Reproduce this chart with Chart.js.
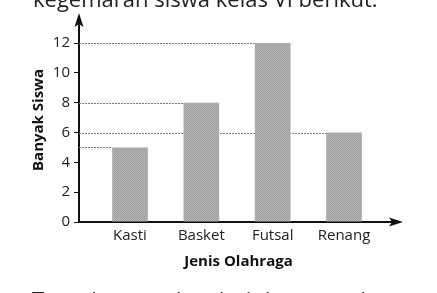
<!DOCTYPE html>
<html>
<head>
<meta charset="utf-8">
<script src="https://cdn.jsdelivr.net/npm/chart.js@4.4.0/dist/chart.umd.min.js"></script>
<style>
  html, body { margin: 0; padding: 0; background: #fff; }
  #wrap { position: relative; width: 437px; height: 293px; }
</style>
</head>
<body>
<div id="wrap"><canvas id="chartOlahraga" width="437" height="293"></canvas></div>
<script>
// Data kegemaran olahraga siswa kelas VI
const jenisOlahraga = ['Kasti', 'Basket', 'Futsal', 'Renang'];
const banyakSiswa = [5, 8, 12, 6];
const tickSumbuY = [0, 2, 4, 6, 8, 10, 12];

const teksAtas = 'kegemaran siswa kelas VI berikut.';
const teksBawah = 'Tentukan modus dari data tersebut.';

// Pola arsir batang (titik-titik abu seperti hasil cetak)
function buatPolaArsir() {
  const c = document.createElement('canvas');
  c.width = 2;
  c.height = 2;
  const g = c.getContext('2d');
  g.fillStyle = '#b4b4b4';
  g.fillRect(0, 0, 2, 2);
  g.fillStyle = '#a0a0a0';
  g.fillRect(0, 0, 1, 1);
  g.fillRect(1, 1, 1, 1);
  return g.createPattern(c, 'repeat');
}

// Plugin: garis putus-putus dari sumbu ke batang, panah sumbu, teks potongan
const hiasanPlugin = {
  id: 'hiasan',
  beforeDatasetsDraw(chart) {
    const { ctx, chartArea, scales } = chart;
    const meta = chart.getDatasetMeta(0);
    ctx.save();
    ctx.strokeStyle = '#7a7a7a';
    ctx.lineWidth = 1;
    ctx.setLineDash([2, 1]);
    meta.data.forEach((bar, i) => {
      const y = Math.round(scales.y.getPixelForValue(banyakSiswa[i])) + 0.5;
      ctx.beginPath();
      ctx.moveTo(chartArea.left, y);
      ctx.lineTo(bar.x - bar.width / 2, y);
      ctx.stroke();
    });
    ctx.restore();
  },
  afterDraw(chart) {
    const { ctx, chartArea } = chart;
    ctx.save();
    ctx.fillStyle = '#111';
    // panah sumbu Y
    const ax = chartArea.left;
    ctx.beginPath();
    ctx.moveTo(ax, chartArea.top - 5);
    ctx.lineTo(ax - 4.5, chartArea.top + 9);
    ctx.lineTo(ax, chartArea.top + 6);
    ctx.lineTo(ax + 4.5, chartArea.top + 9);
    ctx.closePath();
    ctx.fill();
    // panah sumbu X
    const ay = chartArea.bottom;
    ctx.beginPath();
    ctx.moveTo(chartArea.right + 5, ay);
    ctx.lineTo(chartArea.right - 9, ay - 4.5);
    ctx.lineTo(chartArea.right - 6, ay);
    ctx.lineTo(chartArea.right - 9, ay + 4.5);
    ctx.closePath();
    ctx.fill();
    // teks soal yang terpotong
    ctx.fillStyle = '#222';
    ctx.font = '22px "Open Sans"';
    ctx.textBaseline = 'alphabetic';
    ctx.fillText(teksAtas, 33, 7);
    ctx.fillText(teksBawah, 32, 308);
    ctx.restore();
  },
};

const ctxOlahraga = document.getElementById('chartOlahraga').getContext('2d');
const chartOlahraga = new Chart(ctxOlahraga, {
  type: 'bar',
  data: {
    datasets: [
      {
        label: 'Banyak Siswa',
        data: banyakSiswa.map((v, i) => ({ x: i + 1, y: v })),
        backgroundColor: buatPolaArsir(),
        borderWidth: 0,
        categoryPercentage: 1,
        barPercentage: 0.5,
      },
    ],
  },
  options: {
    responsive: false,
    animation: false,
    events: [],
    layout: { padding: { top: 18, right: 39, left: 0, bottom: 0 } },
    plugins: { legend: { display: false }, tooltip: { enabled: false } },
    scales: {
      x: {
        type: 'linear',
        offset: false,
        min: 0.285,
        max: 4.757,
        afterFit(scale) { scale.height = 71; },
        afterBuildTicks(scale) { scale.ticks = jenisOlahraga.map((_, i) => ({ value: i + 1 })); },
        grid: { display: false, drawTicks: false },
        border: { display: true, color: '#111', width: 2 },
        ticks: {
          padding: 5,
          color: '#222',
          font: { family: 'Open Sans', size: 15 },
          callback: (v) => jenisOlahraga[v - 1] || '',
        },
        title: {
          display: true,
          text: 'Jenis Olahraga',
          color: '#111',
          font: { family: 'Open Sans', size: 15, weight: 'bold' },
          padding: { top: 0, bottom: 22 },
        },
      },
      y: {
        min: 0,
        max: 13.68,
        afterFit(scale) { scale.width = 79; },
        afterBuildTicks(scale) { scale.ticks = tickSumbuY.map((v) => ({ value: v })); },
        grid: { drawOnChartArea: false, drawTicks: true, tickLength: 5, color: '#111' },
        border: { display: true, color: '#111', width: 2 },
        ticks: {
          padding: 4,
          color: '#222',
          font: { family: 'Open Sans', size: 15 },
        },
        title: {
          display: true,
          text: 'Banyak Siswa',
          color: '#111',
          font: { family: 'Open Sans', size: 15, weight: 'bold' },
          padding: { top: 30, bottom: 0 },
        },
      },
    },
  },
  plugins: [hiasanPlugin],
});
</script>
</body>
</html>
